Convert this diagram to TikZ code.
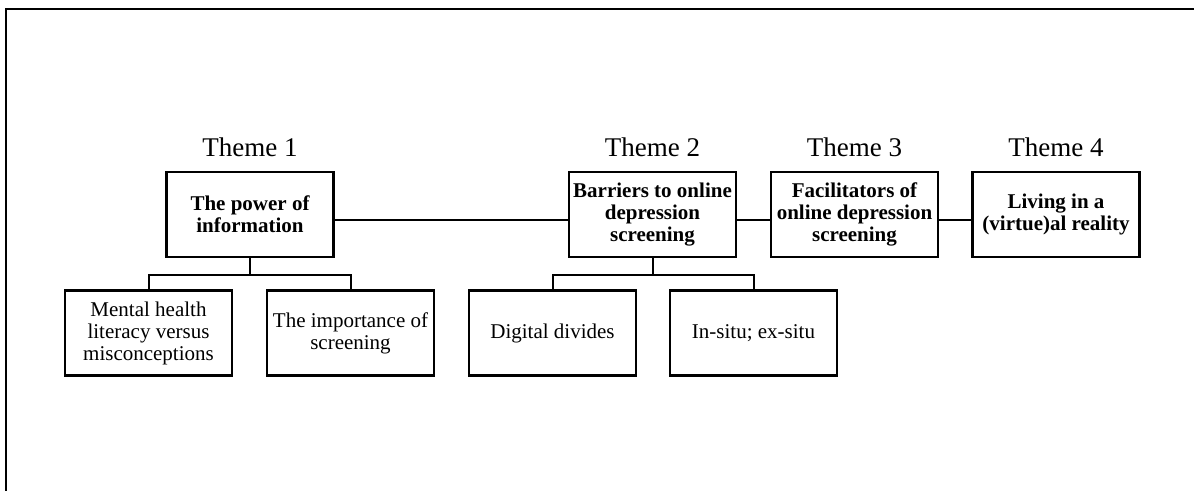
\documentclass[tikz,border=0pt]{standalone}
\usepackage{fontspec}
\setmainfont{Liberation Serif}

\begin{document}
\begin{tikzpicture}[x=1pt,y=-1pt,
  theme/.style={draw,line width=2.2pt,minimum width=167pt,minimum height=85pt,
    inner sep=0pt,align=center,font=\fontsize{21}{22}\selectfont\bfseries},
  sub/.style={theme,font=\fontsize{21}{22}\selectfont},
  head/.style={anchor=base,inner sep=0pt,font=\fontsize{27}{30}\selectfont},
  link/.style={line width=1.1pt},
  fork/.style={line width=2pt}]
  \useasboundingbox (0,0) rectangle (1194,490);
  \draw[line width=2.2pt] (6,500) -- (6,9) -- (1204,9);

  % themes
  \node[theme] (t1) at (250,214.5) {The power of\\information};
  \node[theme] (t2) at (652.5,214.5) {Barriers to online\\depression\\screening};
  \node[theme] (t3) at (854.5,214.5) {Facilitators of\\online depression\\screening};
  \node[theme] (t4) at (1056,214.5) {Living in a\\(virtue)al reality};

  \node[head] (h1) at (250,156) {Theme 1};
  \node[head] (h2) at (652.5,156) {Theme 2};
  \node[head] (h3) at (854.5,156) {Theme 3};
  \node[head] (h4) at (1056,156) {Theme 4};

  % sub-themes
  \node[sub] (s11) at (148.5,333) {Mental health\\literacy versus\\misconceptions};
  \node[sub] (s12) at (350.5,333) {The importance of\\screening};
  \node[sub] (s21) at (552.5,333) {Digital divides};
  \node[sub] (s22) at (753.5,333) {In-situ; ex-situ};

  \draw[link] ([yshift=-5.5pt]t1.east) -- ([yshift=-5.5pt]t2.west);
  \draw[link] ([yshift=-5.5pt]t2.east) -- ([yshift=-5.5pt]t3.west);
  \draw[link] ([yshift=-5.5pt]t3.east) -- ([yshift=-5.5pt]t4.west);

  \draw[fork] (t1.south) -- ++(0,17) coordinate (f1) -| (s11.north)
    (f1) -| (s12.north);
  \draw[fork] (t2.south) -- ++(0,17) coordinate (f2) -| (s21.north)
    (f2) -| (s22.north);
\end{tikzpicture}
\end{document}
